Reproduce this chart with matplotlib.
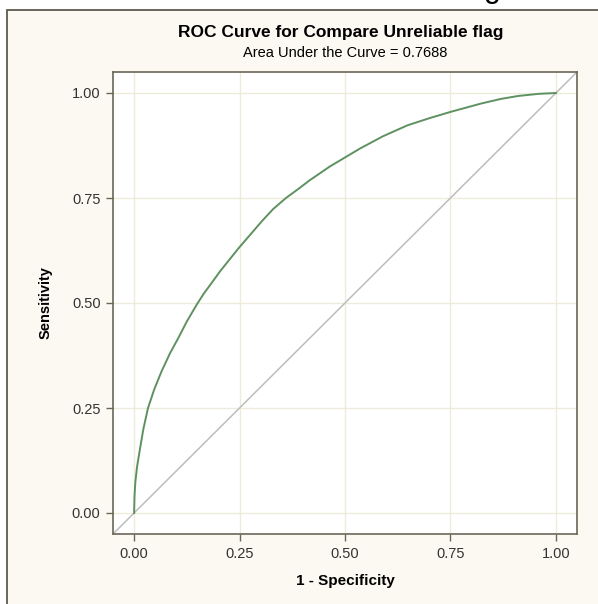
import matplotlib
matplotlib.use("Agg")
import matplotlib.pyplot as plt
from matplotlib.patches import Rectangle

# ROC data
fpr = [0.0, 0.0005, 0.001, 0.003, 0.007, 0.014, 0.022, 0.033, 0.048, 0.065, 0.085,
       0.105, 0.125, 0.149, 0.165, 0.184, 0.205, 0.249, 0.304, 0.33, 0.36, 0.39,
       0.416, 0.464, 0.536, 0.59, 0.648, 0.70, 0.75, 0.823, 0.87, 0.911, 0.959, 1.0]
tpr = [0.0, 0.02, 0.04, 0.074, 0.11, 0.153, 0.2, 0.25, 0.295, 0.337, 0.38,
       0.417, 0.456, 0.497, 0.522, 0.548, 0.577, 0.632, 0.696, 0.724, 0.75, 0.772,
       0.792, 0.825, 0.868, 0.897, 0.923, 0.94, 0.955, 0.975, 0.986, 0.993, 0.998, 1.0]
ref_line = [-0.05, 1.05]
ticks = [0.0, 0.25, 0.5, 0.75, 1.0]
tick_labels = ["0.00", "0.25", "0.50", "0.75", "1.00"]

title = "ROC Curve for Compare Unreliable flag"
subtitle = "Area Under the Curve = 0.7688"

plt.rcParams['font.family'] = ['Liberation Sans', 'DejaVu Sans']

W, H = 598, 604
fig = plt.figure(figsize=(W / 100, H / 100), dpi=100)
fig.patch.set_facecolor("white")

bg = "#FCF9F2"
frame = "#6B6658"
# outer cream panel with border (left and top edges visible)
fig.patches.append(Rectangle((7 / W, -0.01), 1.02, (H - 10) / H + 0.01,
                             transform=fig.transFigure, facecolor=bg,
                             edgecolor="#5E5A50", linewidth=1.3, zorder=-10))
# cropped large text at top
fig.text(492 / W, 1 + 2.5 / H, "g", fontsize=22, ha="center", va="baseline",
         color="black")

ax = fig.add_axes([113 / W, (H - 534) / H, (577 - 113) / W, (534 - 72) / H])
ax.set_zorder(1)
ax.set_facecolor("white")
ax.set_xlim(-0.05, 1.05)
ax.set_ylim(-0.05, 1.05)

ax.grid(True, color="#EEEBDC", linewidth=1.0, zorder=0)
ax.set_axisbelow(True)
ax.plot(ref_line, ref_line, color="#BDBDBD", linewidth=1.1, zorder=2)
ax.plot(fpr, tpr, color="#5E9160", linewidth=1.4, zorder=3)

ax.set_xticks(ticks)
ax.set_xticklabels(tick_labels)
ax.set_yticks(ticks)
ax.set_yticklabels(tick_labels)
ax.tick_params(axis="both", direction="out", length=5, width=1.0, color=frame,
               labelsize=10.5, labelcolor="#333333", pad=4)
for s in ax.spines.values():
    s.set_color(frame)
    s.set_linewidth(1.2)

ax.set_xlabel("1 - Specificity", fontsize=11, fontweight="bold", labelpad=10)
ax.set_ylabel("Sensitivity", fontsize=10.5, fontweight="bold", labelpad=14)

cx = (113 + 577) / 2 / W
fig.text(cx - 4 / W, (H - 33) / H, title, fontsize=12.5, fontweight="bold",
         ha="center", va="center")
fig.text(cx, (H - 53) / H, subtitle, fontsize=10.5, ha="center", va="center")

fig.savefig("out.png", dpi=100, facecolor=fig.get_facecolor())
